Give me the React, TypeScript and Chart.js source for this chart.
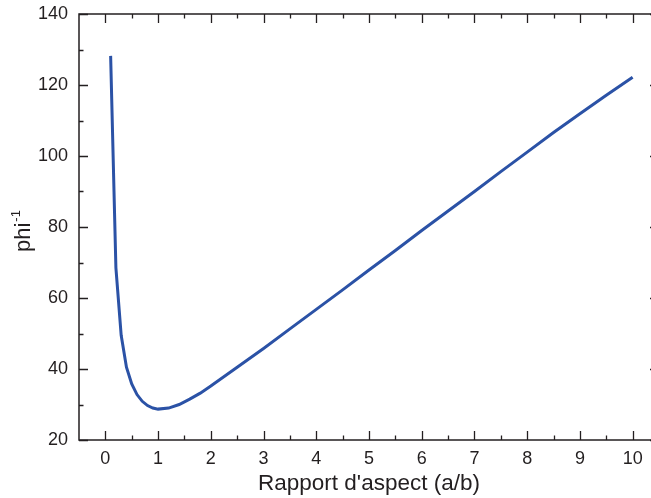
import React, { useEffect, useRef } from 'react';
import { Chart, registerables } from 'chart.js';

Chart.register(...registerables);

// Data
const aspectRatio = [0.1, 0.2, 0.3, 0.4, 0.5, 0.6, 0.7, 0.8, 0.9, 1.0, 1.2, 1.4, 1.6, 1.8, 2.0, 2.5, 3.0, 3.5, 4.0, 4.5, 5.0, 5.5, 6.0, 6.5, 7.0, 7.5, 8.0, 8.5, 9.0, 9.5, 10.0];
const phiInverse = [128.2, 68.5, 49.5, 40.5, 35.8, 32.8, 30.9, 29.7, 29.0, 28.7, 29.0, 30.0, 31.5, 33.2, 35.2, 40.5, 45.8, 51.3, 56.8, 62.3, 67.9, 73.4, 79.0, 84.5, 90.0, 95.6, 101.1, 106.6, 111.9, 117.1, 122.2];

const xTickValues = [0, 1, 2, 3, 4, 5, 6, 7, 8, 9, 10];
const xMinorValues = [0.5, 1.5, 2.5, 3.5, 4.5, 5.5, 6.5, 7.5, 8.5, 9.5, 10.5];
const yTickValues = [20, 40, 60, 80, 100, 120, 140];
const yMinorValues = [30, 50, 70, 90, 110, 130];

const xTitle = "Rapport d'aspect (a/b)";
const yTitleMain = 'phi';
const yTitleSup = '-1';

const FONT = '"Liberation Sans", Arial, Helvetica, sans-serif';
const INK = '#231f20';
const LINE = '#2b52a6';

const framePlugin = {
  id: 'frame',
  afterDatasetsDraw(chart: any) {
    const { ctx, chartArea: a, scales } = chart;
    const x = scales.x;
    const y = scales.y;
    ctx.save();
    ctx.strokeStyle = INK;
    ctx.lineWidth = 1.5;
    ctx.strokeRect(a.left, a.top, a.right - a.left, a.bottom - a.top);

    const major = 9;
    const minor = 4.5;
    ctx.lineWidth = 1.3;
    ctx.beginPath();
    const xt = (v: number, len: number) => {
      const px = Math.round(x.getPixelForValue(v)) + 0.5;
      ctx.moveTo(px, a.bottom);
      ctx.lineTo(px, a.bottom - len);
      ctx.moveTo(px, a.top);
      ctx.lineTo(px, a.top + len);
    };
    const yt = (v: number, len: number) => {
      const py = Math.round(y.getPixelForValue(v)) + 0.5;
      ctx.moveTo(a.left, py);
      ctx.lineTo(a.left + len, py);
      ctx.moveTo(a.right, py);
      ctx.lineTo(a.right - len, py);
    };
    xTickValues.forEach((v) => xt(v, major));
    xMinorValues.forEach((v) => xt(v, minor));
    yTickValues.forEach((v) => yt(v, major));
    yMinorValues.forEach((v) => yt(v, minor));
    ctx.stroke();

    // x title
    ctx.fillStyle = INK;
    ctx.font = `22.5px ${FONT}`;
    ctx.textAlign = 'center';
    ctx.textBaseline = 'alphabetic';
    ctx.fillText(xTitle, (a.left + a.right) / 2, 490);

    // y title with superscript
    ctx.save();
    ctx.translate(30, 252);
    ctx.rotate(-Math.PI / 2);
    ctx.textAlign = 'left';
    ctx.font = `22px ${FONT}`;
    ctx.fillText(yTitleMain, 0, 0);
    const w = ctx.measureText(yTitleMain).width;
    ctx.font = `13px ${FONT}`;
    ctx.fillText(yTitleSup, w + 1, -10);
    ctx.restore();

    ctx.restore();
  },
};

export default function App() {
  const canvasRef = useRef<HTMLCanvasElement | null>(null);

  useEffect(() => {
    const canvas = canvasRef.current;
    if (!canvas) return;
    const chart = new Chart(canvas, {
      type: 'line',
      data: {
        datasets: [
          {
            data: aspectRatio.map((v, i) => ({ x: v, y: phiInverse[i] })),
            borderColor: LINE,
            borderWidth: 3,
            pointRadius: 0,
            tension: 0,
            fill: false,
          },
        ],
      },
      options: {
        animation: false,
        responsive: false,
        devicePixelRatio: 1,
        layout: { padding: { left: 0, top: 14, right: 21, bottom: 0 } },
        plugins: {
          legend: { display: false },
          tooltip: { enabled: false },
        },
        scales: {
          x: {
            type: 'linear',
            min: -0.5,
            max: 10.5,
            grid: { display: false, drawTicks: false },
            border: { display: false },
            afterBuildTicks: (s: any) => {
              s.ticks = xTickValues.map((v) => ({ value: v }));
            },
            afterFit: (s: any) => {
              s.height = 58;
              s.paddingLeft = 0;
              s.paddingRight = 0;
              s.paddingTop = 0;
              s.paddingBottom = 0;
            },
            ticks: {
              color: INK,
              font: { family: FONT, size: 18 },
              padding: 8,
              maxRotation: 0,
              autoSkip: false,
            },
          },
          y: {
            type: 'linear',
            min: 20,
            max: 140,
            grid: { display: false, drawTicks: false },
            border: { display: false },
            afterBuildTicks: (s: any) => {
              s.ticks = yTickValues.map((v) => ({ value: v }));
            },
            afterFit: (s: any) => {
              s.width = 79;
              s.paddingLeft = 0;
              s.paddingRight = 0;
              s.paddingTop = 0;
              s.paddingBottom = 0;
            },
            ticks: {
              color: INK,
              font: { family: FONT, size: 18 },
              padding: 11,
              autoSkip: false,
            },
          },
        },
      },
      plugins: [framePlugin],
    });
    return () => chart.destroy();
  }, []);

  return (
    <div
      style={{
        position: 'fixed',
        left: 0,
        top: 0,
        width: 651,
        height: 498,
        overflow: 'hidden',
        background: '#ffffff',
      }}
    >
      <canvas ref={canvasRef} width={680} height={498} style={{ display: 'block' }} />
    </div>
  );
}
